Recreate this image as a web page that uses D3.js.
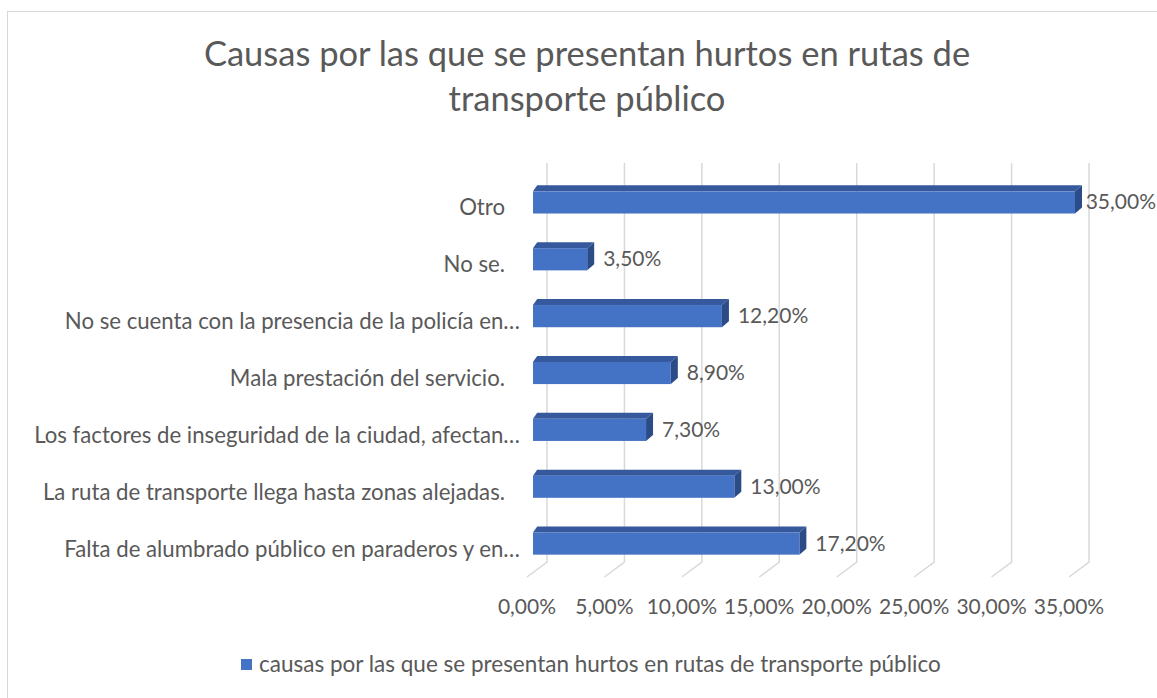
<!DOCTYPE html>
<html><head><meta charset="utf-8">
<script src="https://cdn.jsdelivr.net/npm/d3@7"></script>
<style>
html,body{margin:0;padding:0;background:#fff;}
svg{display:block;}
text{font-family:Lato,"Open Sans",sans-serif;fill:#595959;}
</style></head>
<body>
<svg id="chart" width="1157" height="698"></svg>
<script>
// ---- data ----
const categories = [
  "Otro",
  "No se.",
  "No se cuenta con la presencia de la policía en…",
  "Mala prestación del servicio.",
  "Los factores de inseguridad de la ciudad, afectan…",
  "La ruta de transporte llega hasta zonas alejadas.",
  "Falta de alumbrado público en paraderos y en…"
];
const values = [35.0, 3.5, 12.2, 8.9, 7.3, 13.0, 17.2];
const tickValues = [0, 5, 10, 15, 20, 25, 30, 35];
const titleLines = ["Causas por las que se presentan hurtos en rutas de", "transporte público"];
const seriesName = "causas por las que se presentan hurtos en rutas de transporte público";

const fmt = v => v.toFixed(2).replace(".", ",") + "%";

const W = 1157, H = 698;
const svg = d3.select("#chart");

// chart border
svg.append("rect").attr("x", 7.5).attr("y", 11.5).attr("width", W).attr("height", H)
  .attr("fill", "#fff").attr("stroke", "#D9D9D9").attr("stroke-width", 1);

// title
svg.append("text").attr("x", 587).attr("y", 66).attr("text-anchor", "middle")
  .style("font-size", "34.5px")
  .selectAll("tspan").data(titleLines).join("tspan")
  .attr("x", 587).attr("dy", (d, i) => i === 0 ? 0 : 45).text(d => d);

// scales (front plane of the floor, bars, back wall)
const xFront = d3.scaleLinear().domain([0, 35]).range([527, 1069]);
const depth = {dx: 20, dy: -15};      // floor depth
const barDepth = {dx: 7, dy: -6};     // bar depth
const barShift = 6;                   // bars sit slightly behind front plane
const y = d3.scaleBand().domain(categories).range([174, 572]).paddingInner(0.61).paddingOuter(0.305);

const floorY = 577;
const wallTop = 163;

// gridlines: back wall verticals + floor diagonals
const grid = svg.append("g").attr("stroke", "#D9D9D9").attr("stroke-width", 1.5).attr("fill", "none");
grid.selectAll("path").data(tickValues).join("path")
  .attr("d", v => {
    const xb = xFront(v) + depth.dx;
    return `M${xb},${wallTop} L${xb},${floorY + depth.dy} L${xFront(v)},${floorY}`;
  });

// axis tick labels
svg.append("g").selectAll("text").data(tickValues).join("text")
  .attr("x", v => xFront(v)).attr("y", 614).attr("text-anchor", "middle")
  .style("font-size", "21px").text(fmt);

// bars
const colFront = "#4472C4", colTop = "#35599C", colSide = "#2C4C88";
const bars = svg.append("g").selectAll("g").data(categories.map((c, i) => ({c, v: values[i]}))).join("g");
bars.each(function(d) {
  const g = d3.select(this);
  const x0 = xFront(0) + barShift, x1 = xFront(d.v) + barShift;
  const yt = y(d.c), h = y.bandwidth();
  const {dx, dy} = barDepth;
  g.append("polygon").attr("fill", colTop)
    .attr("points", [[x0, yt], [x0 + dx * 0.6, yt + dy], [x1 + dx, yt + dy], [x1, yt]].join(" "));
  g.append("polygon").attr("fill", colSide)
    .attr("points", [[x1, yt], [x1 + dx, yt + dy], [x1 + dx, yt + h + dy], [x1, yt + h]].join(" "));
  g.append("rect").attr("fill", colFront).attr("x", x0).attr("y", yt).attr("width", x1 - x0).attr("height", h);
});

// value labels
svg.append("g").selectAll("text").data(categories.map((c, i) => ({c, v: values[i]}))).join("text")
  .attr("y", d => y(d.c) + y.bandwidth() / 2 + 7)
  .style("font-size", "21px").text(d => fmt(d.v))
  .attr("x", function(d) {
    const w = this.getComputedTextLength();
    const x = xFront(d.v) + barShift + barDepth.dx + 9;
    return Math.min(x, W - 1 - w);
  });

// category labels
svg.append("g").selectAll("text").data(categories).join("text")
  .attr("x", c => c.endsWith("…") ? 520 : 505)
  .attr("y", c => y(c) + y.bandwidth() / 2 + 13)
  .attr("text-anchor", "end").style("font-size", "22.2px").text(c => c);

// legend
svg.append("rect").attr("x", 241).attr("y", 659).attr("width", 11).attr("height", 11).attr("fill", colFront);
svg.append("text").attr("x", 259).attr("y", 672).style("font-size", "22.5px").text(seriesName);
</script>
</body></html>
